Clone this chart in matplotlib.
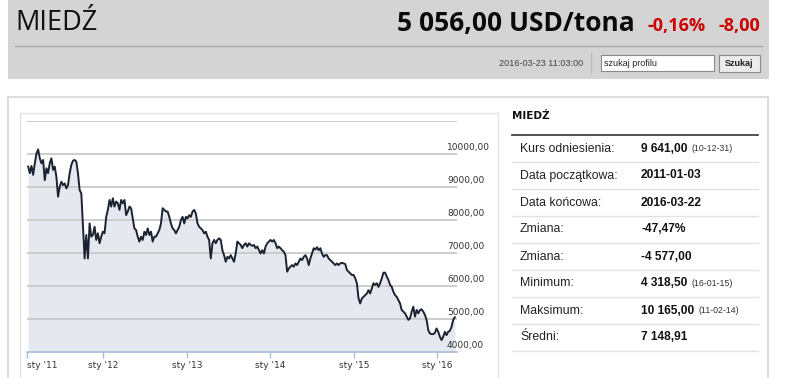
import numpy as np
import matplotlib
matplotlib.use("Agg")
import matplotlib.pyplot as plt
from matplotlib.patches import Rectangle
from matplotlib.transforms import blended_transform_factory

# ---------------------------------------------------------------------
# Data (roughly one value per week)
# ---------------------------------------------------------------------
prices = [
    # 2011
    9620, 9420, 9640, 9370, 9720, 10020, 10140, 9870, 9720, 9820, 9210, 9570,
    9420, 9720, 9870, 9520, 9620, 9310, 8710, 9010, 9160, 9060, 9110, 8960,
    9060, 9420, 9670, 9800, 9820, 9770, 9420, 8910, 8810, 7800, 6840, 7550,
    6840, 7900, 7500, 7550, 7800, 7400, 7600, 7300, 7500, 7650, 7600, 8100,
    8310, 8610, 8410, 8660, 8410, 8560, 8510, 8310, 8610, 8510, 8610, 8150,
    8260, 8410,
    # 2012
    8360, 8050, 7750, 7700, 7500, 7350, 7500, 7400, 7650, 7550, 7750, 7550,
    7650, 7350, 7500, 7500, 7600, 7700, 7900, 8360, 8310, 8260, 8260, 8100,
    7900, 7750, 7700, 7600, 7700, 7800, 8000, 8100, 7900, 8100, 8050, 8150,
    8100, 8260, 8310, 8200, 7900, 7800, 7750, 7700, 7600, 7650, 7500, 7400,
    6840, 7300, 7400, 7300, 7400, 7450, 7400, 7090, 6940, 6740, 6890, 6840,
    6940, 6840, 6740, 6990,
    # 2013 / 2014
    7350, 7300, 7250, 7150, 7250, 7300, 7200, 7300, 7250, 7220, 7250, 7150,
    7200, 7090, 6990, 7090, 6990, 7200, 7300, 7350, 7400, 7350, 7400, 7300,
    7150, 7200, 7150, 7090, 7040, 6940, 6440, 6540, 6590, 6640, 6590, 6690,
    6640, 6740, 6840, 6790, 6890, 6940, 6840, 6640, 6840, 6990, 7150, 7110,
    7180, 7090, 7150, 6990, 6890, 6940, 6940, 6840, 6790, 6740, 6690, 6640,
    6690, 6640, 6690, 6710,
    # 2015 / 2016
    6690, 6670, 6490, 6440, 6390, 6340, 6340, 6240, 6090, 5630, 5480, 5630,
    5680, 5730, 5780, 5880, 5780, 5930, 6090, 6040, 6090, 5980, 6090, 6240,
    6410, 6410, 6290, 6190, 6040, 5980, 5830, 5730, 5680, 5580, 5480, 5280,
    5230, 5180, 5080, 4980, 5030, 5230, 5380, 5080, 5280, 5180, 5280, 5300,
    5230, 5130, 4980, 4670, 4570, 4550, 4550, 4590, 4720, 4620, 4470, 4370,
    4470, 4620, 4520, 4620, 4650, 4770, 4980, 5060,
]
first_pos, last_pos = 2011.10, 2016.21      # ordinal axis positions of first/last quote
x_ticks = [2011.086, 2012, 2013, 2014, 2015, 2016]
x_tick_labels = ["sty '11", "sty '12", "sty '13", "sty '14", "sty '15", "sty '16"]
y_grid = [5000, 6000, 7000, 8000, 9000, 10000, 11000]
y_labels = [4000, 5000, 6000, 7000, 8000, 9000, 10000]

stat_labels = ["Kurs odniesienia:", "Data początkowa:", "Data końcowa:", "Zmiana:",
               "Zmiana:", "Minimum:", "Maksimum:", "Średni:"]
stat_values = ["9 641,00", "2011-01-03", "2016-03-22", "-47,47%",
               "-4 577,00", "4 318,50", "10 165,00", "7 148,91"]
stat_dates = ["(10-12-31)", "", "", "", "", "(16-01-15)", "(11-02-14)", ""]

# ---------------------------------------------------------------------
# Page layout (pixel coordinates)
# ---------------------------------------------------------------------
W, H = 786, 378
fig = plt.figure(figsize=(W / 100, H / 100), dpi=100)
fig.patch.set_facecolor("white")


def px_rect(x, y, w, h):
    return [x / W, 1 - (y + h) / H, w / W, h / H]


bg = fig.add_axes([0, 0, 1, 1])
bg.set_xlim(0, W)
bg.set_ylim(H, 0)
bg.axis("off")

# header bar
bg.add_patch(Rectangle((8, 0), 761, 79, facecolor="#d4d4d4", edgecolor="none"))
bg.plot([15, 762], [46, 46], color="#a9a9a9", lw=1)
bg.text(15, 23, "MIEDŹ", fontsize=19.5, family="Open Sans", color="#111111", va="center")
bg.text(635, 23, "5 056,00 USD/tona", fontsize=19, family="Open Sans",
        weight="bold", color="#0a0a0a", va="center", ha="right")
bg.text(648, 26, "-0,16%", fontsize=13, family="Open Sans", weight="bold",
        color="#cc0000", va="center")
bg.text(760, 26, "-8,00", fontsize=13, family="Open Sans", weight="bold",
        color="#cc0000", va="center", ha="right")
bg.text(583, 63, "2016-03-23 11:03:00", fontsize=6.6, family="Liberation Sans",
        color="#444444", va="center", ha="right")
bg.plot([591, 591], [53, 73], color="#bcbcbc", lw=1)
bg.add_patch(Rectangle((601, 55), 113, 16, facecolor="white", edgecolor="#8a8a8a", lw=0.8))
bg.text(604, 63, "szukaj profilu", fontsize=6.5, family="Liberation Sans",
        color="#222222", va="center")
bg.add_patch(Rectangle((719, 55), 41, 17, facecolor="#ececec", edgecolor="#8a8a8a", lw=0.8))
bg.text(739.5, 63.5, "Szukaj", fontsize=6.5, family="Liberation Sans", weight="bold",
        color="#222222", va="center", ha="center")

# content boxes
bg.add_patch(Rectangle((8, 96.5), 760, 300, facecolor="white", edgecolor="#dddddd", lw=1.5))
bg.add_patch(Rectangle((20, 113), 478, 300, facecolor="white", edgecolor="#e2e2e2", lw=1))

# statistics table
bg.text(512, 116, "MIEDŹ", fontsize=7.5, weight="bold", color="#111111", va="center")
bg.plot([512, 758], [135, 135], color="#333333", lw=1.2)
row_h = 27
for i, (lab, val, dt) in enumerate(zip(stat_labels, stat_values, stat_dates)):
    yc = 148.5 + i * row_h
    bg.text(520, yc, lab, fontsize=8.8, family="Liberation Sans", color="#222222", va="center")
    vt = bg.text(641, yc, val, fontsize=8.6, family="Liberation Sans", weight="bold",
                 color="#111111", va="center")
    if dt:
        bg.annotate(dt, xy=(1, 0.5), xycoords=vt, xytext=(3, 0), textcoords="offset points",
                    fontsize=6.3, family="Liberation Sans", color="#333333", va="center")
    bg.plot([512, 758], [yc + 13.8, yc + 13.8], color="#e2e2e2", lw=1)

# ---------------------------------------------------------------------
# Price chart
# ---------------------------------------------------------------------
x = np.linspace(first_pos, last_pos, len(prices))

ax = fig.add_axes(px_rect(27, 121, 430, 231.3))
ax.set_xlim(x_ticks[0], 2016.236)
ax.set_ylim(4000, 11000)
ax.patch.set_alpha(0)

for g in y_grid:
    ax.axhline(g, color="#c9c9c9", lw=1.3, zorder=1)

ax.fill_between(x, prices, 4000, color="#e5e8ef", lw=0, zorder=0)
ax.plot(x, prices, color="#1b2231", lw=1.4, zorder=3)

for spine in ["top", "right", "left"]:
    ax.spines[spine].set_visible(False)
ax.spines["bottom"].set_color("#a7bddb")
ax.spines["bottom"].set_linewidth(1.2)

ax.set_yticks([])
ax.set_xticks(x_ticks)
ax.set_xticklabels(x_tick_labels, fontsize=6.5, color="#333333")
ax.tick_params(axis="x", length=4.5, width=1, color="#a7bddb", pad=1.5)
ax.get_xticklabels()[0].set_horizontalalignment("left")

trans = blended_transform_factory(ax.transAxes, ax.transData)
for v in y_labels:
    ax.text(1 - 10 / 430, v + 60, f"{v:.2f}".replace(".", ","), transform=trans,
            fontsize=6.5, color="#333333", va="bottom", ha="left", clip_on=False)

fig.savefig("out.png", dpi=100)
